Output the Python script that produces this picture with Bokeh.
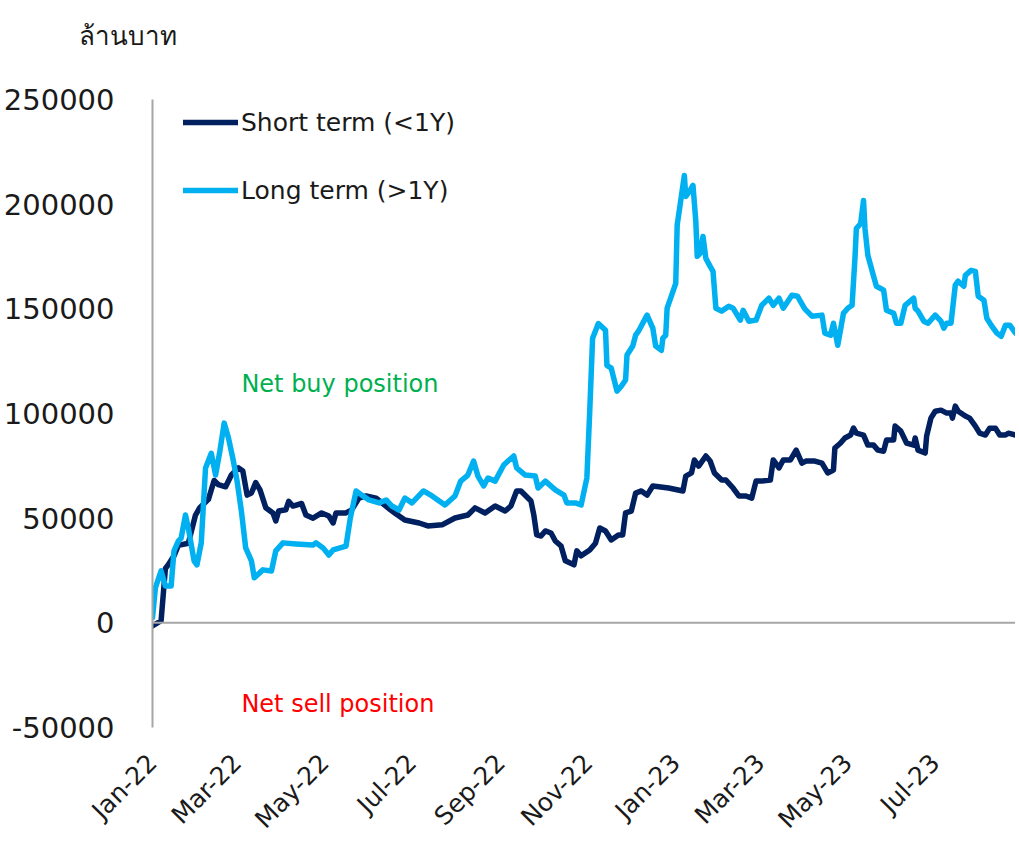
import math
import pandas as pd
from bokeh.plotting import figure
from bokeh.models import (Range1d, FixedTicker, DatetimeTickFormatter, Legend, LegendItem,
                          Label, Span, NumeralTickFormatter)
from bokeh.embed import file_html
from bokeh.resources import INLINE

START = pd.Timestamp("2022-01-01")

# Short term (<1Y): days since 2022-01-01 and value (million baht)
short_days = [0, 6, 9, 11, 15, 18, 25, 30, 33, 39, 43, 46, 51, 55, 60, 63, 66, 69, 72, 75,
              79, 84, 86, 88, 93, 95, 98, 104, 107, 112, 118, 123, 126, 128, 135, 139, 144, 149, 156, 160,
              166, 169, 176, 186, 192, 202, 211, 220, 225, 232, 239, 246, 250, 254, 257, 264, 266, 268, 271, 274,
              278, 281, 285, 288, 294, 296, 299, 305, 309, 312, 316, 320, 325, 328, 330, 334, 337, 341, 345, 349,
              360, 370, 372, 376, 378, 381, 386, 389, 392, 397, 400, 405, 409, 414, 418, 421, 425, 431, 433, 437,
              440, 445, 449, 453, 456, 462, 467, 471, 475, 476, 480, 483, 487, 489, 491, 496, 499, 503, 506, 510,
              512, 517, 518, 522, 526, 531, 532, 534, 539, 540, 543, 546, 550, 554, 557, 558, 560, 562, 567, 570,
              574, 577, 581, 584, 588, 591, 595, 597, 602]
short_vals = [-1500, 1000, 26000, 27700, 32000, 37000, 38000, 51500, 55000, 59000, 68000, 66000, 65000, 70600, 74000, 72500, 61000, 62000, 67000, 63500,
              55000, 52500, 48700, 53400, 54000, 58000, 55800, 57000, 51500, 50000, 52500, 51000, 47700, 52500, 52500, 54000, 59600, 60600, 59600, 57300,
              54000, 52500, 49100, 47700, 46300, 46800, 50100, 51500, 54900, 52500, 55800, 53400, 55800, 63000, 63000, 58200, 51500, 42000, 41500, 43900,
              42900, 39100, 36700, 29600, 27700, 34400, 32000, 34800, 38000, 45300, 43900, 39600, 42000, 42000, 52500, 53400, 62000, 63000, 61000, 65400,
              64400, 63000, 70100, 71600, 77800, 74900, 79700, 77300, 71600, 68200, 68200, 64400, 60600, 60600, 59600, 67700, 67700, 68200, 77800, 74000,
              77800, 77800, 82500, 76300, 77300, 77300, 76300, 71600, 73000, 83500, 85900, 88300, 89700, 93000, 90600, 89700, 84900, 84900, 82500, 82000,
              87300, 87300, 94000, 91600, 85900, 84900, 88300, 82500, 81100, 89200, 97800, 101100, 101600, 100200, 100200, 97800, 103500, 101100, 98800, 97800,
              94000, 90600, 89700, 93000, 93000, 89700, 89700, 90600, 89700]

# Long term (>1Y)
long_days = [0, 2, 6, 9, 13, 15, 18, 20, 23, 25, 29, 31, 34, 37, 41, 44, 47, 50, 53, 56,
             59, 62, 65, 69, 71, 77, 83, 86, 91, 100, 112, 114, 119, 123, 126, 135, 138, 142, 146, 151,
             158, 163, 167, 172, 176, 181, 189, 195, 204, 211, 215, 220, 224, 227, 231, 234, 239, 245, 248, 252,
             254, 260, 267, 269, 274, 281, 287, 289, 295, 299, 303, 305, 307, 311, 316, 317, 320, 324, 327, 330,
             331, 335, 337, 339, 345, 349, 351, 355, 356, 358, 359, 365, 366, 369, 371, 372, 375, 377, 379, 380,
             382, 384, 386, 389, 391, 393, 397, 402, 405, 410, 412, 416, 421, 425, 430, 433, 437, 440, 446, 450,
             455, 460, 467, 469, 473, 475, 478, 482, 485, 488, 490, 491, 494, 496, 497, 499, 503, 505, 510, 512,
             517, 519, 522, 525, 531, 532, 534, 538, 541, 546, 550, 552, 554, 557, 560, 562, 566, 567, 571, 574,
             576, 580, 582, 585, 589, 592, 595, 598, 602]
long_vals = [2400, 16700, 24800, 17600, 17600, 34400, 39000, 40500, 51500, 45300, 29600, 27700, 38200, 74000, 81000, 70600, 82000, 95400, 88300, 78700,
             67700, 53400, 35800, 29600, 21500, 25300, 24800, 34400, 38200, 37700, 37200, 38200, 35800, 32400, 34800, 36700, 50100, 63000, 61000, 58700,
             57300, 58700, 55800, 53900, 59600, 57300, 63000, 60600, 56300, 60600, 67700, 70600, 77300, 70100, 65400, 69200, 67700, 75400, 77300, 79700,
             74000, 70600, 70100, 64400, 67700, 63500, 61000, 57300, 57300, 56300, 69200, 101000, 136000, 143000, 139800, 123000, 121700, 110700, 113000, 116000,
             127900, 132200, 137400, 139300, 147000, 140800, 132200, 130200, 136000, 137400, 150300, 162200, 190000, 204200, 213700, 203700, 206600, 209000, 191800, 175100,
             176500, 184600, 174100, 170300, 167900, 150300, 148900, 151200, 150300, 144600, 149300, 144100, 144600, 151700, 155100, 151700, 155100, 150300, 156500, 156000,
             150000, 146500, 147000, 138400, 137400, 143100, 132600, 147900, 150300, 151700, 174100, 188400, 190800, 201800, 188400, 175600, 165600, 160800, 158900, 149300,
             147900, 143100, 143100, 151700, 155100, 150300, 148900, 144100, 143100, 147000, 144100, 140800, 143100, 143100, 161300, 163200, 160800, 166000, 168400, 167900,
             156000, 154100, 145500, 142200, 138400, 136900, 142200, 142200, 138400]

tick_dates = ["2022-01-01", "2022-03-01", "2022-05-01", "2022-07-01", "2022-09-01",
              "2022-11-01", "2023-01-01", "2023-03-01", "2023-05-01", "2023-07-01"]
y_ticks = [-50000, 0, 50000, 100000, 150000, 200000, 250000]

SHORT_COLOR = "#002060"
LONG_COLOR = "#00B0F0"
FONT = "DejaVu Sans"


def to_dt(days):
    return START + pd.to_timedelta(days, unit="D")


def ms(ts):
    return pd.Timestamp(ts).value / 1e6


short_x = to_dt(short_days)
long_x = to_dt(long_days)

W, H = 1015, 848
TOP, LEFT = 99, 152
FRAME_H = 628

p = figure(width=W, height=H, x_axis_type="datetime",
           x_range=Range1d(ms(START), ms(to_dt(602))),
           y_range=Range1d(-50000, 250000),
           output_backend="svg", toolbar_location=None,
           min_border_left=LEFT, min_border_right=0, min_border_top=TOP,
           min_border_bottom=H - TOP - FRAME_H)
p.outline_line_color = None
p.grid.grid_line_color = None
p.background_fill_color = "white"
p.border_fill_color = "white"

# unit title, top-left (a blank second line keeps it at the top of the border)
p.title.text = "ล้านบาท\n\u00a0"
p.title.align = "left"
p.title.offset = -74
p.title.vertical_align = "top"
p.title.standoff = 0
p.title.text_font = "Noto Sans"
p.title.text_font_size = "26px"
p.title.text_font_style = "normal"
p.title.text_line_height = 1.25
p.title.text_color = "#1A1A1A"

# zero line
p.add_layout(Span(location=0, dimension="width", line_color="#A6A6A6", line_width=2))

rs = p.line(short_x, short_vals, line_color=SHORT_COLOR, line_width=5.5,
            line_join="round", line_cap="round")
rl = p.line(long_x, long_vals, line_color=LONG_COLOR, line_width=5.5,
            line_join="round", line_cap="round")

# axes
yax = p.yaxis[0]
yax.ticker = FixedTicker(ticks=y_ticks)
yax.formatter = NumeralTickFormatter(format="0")
yax.axis_line_color = "#A6A6A6"
yax.axis_line_width = 2
yax.major_tick_line_color = None
yax.minor_tick_line_color = None
yax.major_tick_out = 0
yax.major_tick_in = 0
yax.major_label_standoff = 38
yax.major_label_text_font = FONT
yax.major_label_text_font_size = "29px"
yax.major_label_text_color = "#1A1A1A"

xax = p.xaxis[0]
xax.ticker = FixedTicker(ticks=[ms(d) for d in tick_dates])
xax.formatter = DatetimeTickFormatter(months="%b-%y", days="%b-%y", years="%b-%y")
xax.axis_line_color = None
xax.major_tick_line_color = None
xax.minor_tick_line_color = None
xax.major_tick_out = 0
xax.major_tick_in = 0
xax.major_label_orientation = math.pi / 4
xax.major_label_standoff = 31
xax.major_label_text_font = FONT
xax.major_label_text_font_size = "25px"
xax.major_label_text_color = "#1A1A1A"

legend = Legend(items=[LegendItem(label="Short term (<1Y)", renderers=[rs]),
                       LegendItem(label="Long term (>1Y)", renderers=[rl])],
                location=(31, FRAME_H - 106), glyph_width=55, glyph_height=30, label_height=30,
                spacing=38, padding=0, margin=0, label_standoff=3,
                border_line_color=None, background_fill_alpha=0,
                label_text_font=FONT, label_text_font_size="25px",
                label_text_color="#1A1A1A")
p.add_layout(legend)

p.add_layout(Label(x=ms(to_dt(62)), y=114000, text="Net buy position", text_baseline="middle",
                   text_font=FONT, text_font_size="24px", text_color="#00B050"))
p.add_layout(Label(x=ms(to_dt(62)), y=-38600, text="Net sell position", text_baseline="middle",
                   text_font=FONT, text_font_size="24px", text_color="#FF0000"))

open("out.html", "w").write(file_html(p, INLINE))
